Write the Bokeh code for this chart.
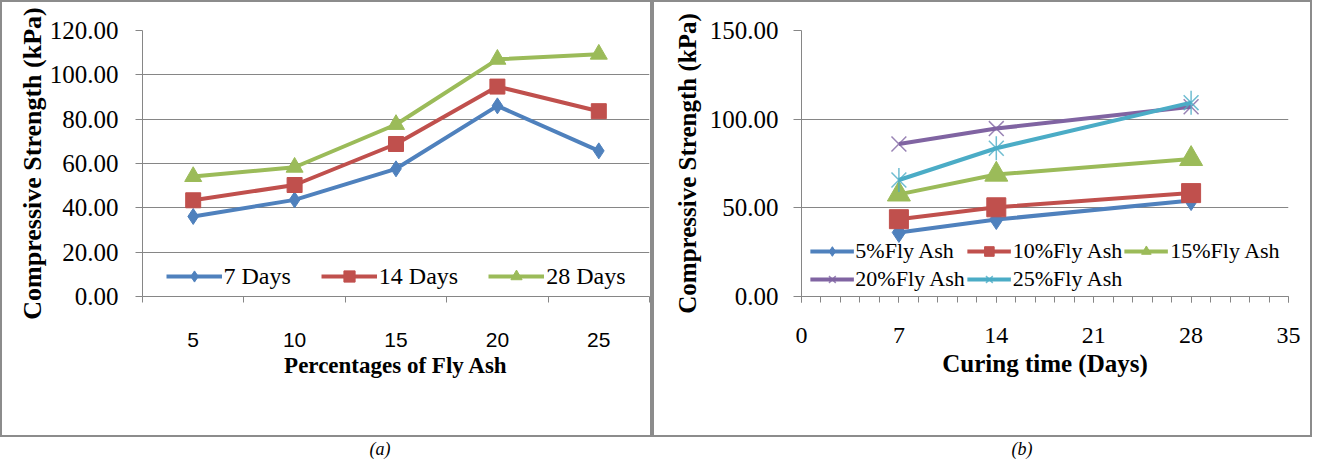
import math
from bokeh.plotting import figure
from bokeh.models import (FixedTicker, SingleIntervalTicker, NumeralTickFormatter,
                          Legend, LegendItem, Range1d, Div)
from bokeh.layouts import row, column
from bokeh.embed import file_html
from bokeh.resources import INLINE

# ---------------- data ----------------
fly_ash_pct = [5, 10, 15, 20, 25]
days_labels = ["7 Days", "14 Days", "28 Days"]
strength_7d = [36.1, 43.6, 57.6, 86.0, 65.7]
strength_14d = [43.4, 50.3, 68.8, 94.7, 83.6]
strength_28d = [54.1, 58.3, 77.6, 107.0, 109.3]
curing_days = [7, 14, 28]
fly_ash_labels = ["5%Fly Ash", "10%Fly Ash", "15%Fly Ash", "20%Fly Ash", "25%Fly Ash"]
y_ticks_a = [0, 20, 40, 60, 80, 100, 120]
y_ticks_b = [0, 50, 100, 150]

SERIF = "Liberation Serif"
SANS = "Liberation Sans"
GRID = "#868686"
BLUE, RED, GREEN, PURPLE, CYAN = "#4F81BD", "#C0504D", "#9BBB59", "#8064A2", "#4BACC6"
BOX = "2px solid #8c8c8c"


def style_y(p, ticks, tick_out, standoff, font_size, title, title_size, title_standoff):
    p.yaxis.ticker = FixedTicker(ticks=ticks)
    p.ygrid.ticker = FixedTicker(ticks=ticks)
    p.ygrid.grid_line_color = GRID
    p.ygrid.grid_line_width = 1
    p.xgrid.visible = False
    ax = p.yaxis[0]
    ax.formatter = NumeralTickFormatter(format="0.00")
    ax.axis_line_color = GRID
    ax.major_tick_line_color = GRID
    ax.minor_tick_line_color = None
    ax.major_tick_out = tick_out
    ax.major_tick_in = 0
    ax.major_label_standoff = standoff
    ax.major_label_text_font = SERIF
    ax.major_label_text_font_size = font_size
    ax.major_label_text_color = "black"
    ax.axis_label = title
    ax.axis_label_text_font = SERIF
    ax.axis_label_text_font_style = "bold"
    ax.axis_label_text_font_size = title_size
    ax.axis_label_text_color = "black"
    ax.axis_label_standoff = title_standoff


def style_x_title(ax, text, size, standoff):
    ax.axis_label = text
    ax.axis_label_text_font = SERIF
    ax.axis_label_text_font_style = "bold"
    ax.axis_label_text_font_size = size
    ax.axis_label_text_color = "black"
    ax.axis_label_standoff = standoff


# ---------------- chart (a) ----------------
pa = figure(width=652, height=437, output_backend="svg", toolbar_location=None,
            x_range=Range1d(2.5, 27.5), y_range=Range1d(0, 120),
            min_border_left=140, min_border_right=5, min_border_top=28, min_border_bottom=120,
            outline_line_color=None, background_fill_color="white", border_fill_color="white",
            styles={"border": BOX})

style_y(pa, y_ticks_a, 7, 17, "25px", "Compressive Strength (kPa)", "26px", 0)

xa = pa.xaxis[0]
xa.ticker = FixedTicker(ticks=fly_ash_pct,
                        minor_ticks=[v - 2.5 for v in fly_ash_pct] + [fly_ash_pct[-1] + 2.5])
xa.axis_line_color = GRID
xa.major_tick_line_color = None
xa.major_tick_out = 0
xa.major_tick_in = 0
xa.minor_tick_line_color = GRID
xa.minor_tick_out = 6
xa.minor_tick_in = 0
xa.major_label_standoff = 30
xa.major_label_text_font = SANS
xa.major_label_text_font_size = "21px"
xa.major_label_text_color = "black"
style_x_title(xa, "Percentages of Fly Ash", "23px", 3)

items_a = []
for vals, color, marker, size, label in [
    (strength_7d, BLUE, "diamond", 16, days_labels[0]),
    (strength_14d, RED, "square", 15, days_labels[1]),
    (strength_28d, GREEN, "triangle", 17, days_labels[2]),
]:
    rl = pa.line(fly_ash_pct, vals, line_color=color, line_width=4)
    rm = pa.scatter(fly_ash_pct, vals, marker=marker, size=size,
                    fill_color=color, line_color=color)
    items_a.append(LegendItem(label=label, renderers=[rl, rm]))

leg_a = Legend(items=items_a, orientation="horizontal", location="bottom_center",
               margin=6, padding=0, spacing=30, label_standoff=2,
               glyph_width=56, glyph_height=28,
               border_line_color=None, background_fill_alpha=0,
               label_text_font=SERIF, label_text_font_size="24px",
               label_text_color="black")
pa.add_layout(leg_a)

# ---------------- chart (b) ----------------
pb = figure(width=660, height=437, output_backend="svg", toolbar_location=None,
            x_range=Range1d(0, 35), y_range=Range1d(0, 150),
            min_border_left=147, min_border_right=26, min_border_top=23, min_border_bottom=143,
            outline_line_color=None, background_fill_color="white", border_fill_color="white",
            styles={"border": BOX})

style_y(pb, y_ticks_b, 8, 15, "25px", "Compressive Strength (kPa)", "25px", 6)

xb = pb.xaxis[0]
xb.ticker = SingleIntervalTicker(interval=7, num_minor_ticks=5)
xb.axis_line_color = GRID
xb.major_tick_line_color = GRID
xb.major_tick_out = 6
xb.major_tick_in = 0
xb.minor_tick_line_color = GRID
xb.minor_tick_out = 6
xb.minor_tick_in = 0
xb.major_label_standoff = 25
xb.major_label_text_font = SERIF
xb.major_label_text_font_size = "24px"
xb.major_label_text_color = "black"
style_x_title(xb, "Curing time (Days)", "25px", 4)

series_b = [[strength_7d[i], strength_14d[i], strength_28d[i]] for i in range(len(fly_ash_pct))]
styles_b = [
    (BLUE, [("diamond", 20, 0.0)]),
    (RED, [("square", 19, 0.0)]),
    (GREEN, [("triangle", 23, 0.0)]),
    (PURPLE, [("x", 21, 0.0)]),
    (CYAN, [("x", 21, 0.0), ("dash", 24, math.pi / 2)]),
]
items_b = []
for vals, (color, marks), label in zip(series_b, styles_b, fly_ash_labels):
    rl = pb.line(curing_days, vals, line_color=color, line_width=4)
    rends = [rl]
    for marker, size, ang in marks:
        if marker in ("x", "dash"):
            rm = pb.scatter(curing_days, vals, marker=marker, size=size, angle=ang,
                            line_color=color, line_width=1.5, line_alpha=0.8)
        else:
            rm = pb.scatter(curing_days, vals, marker=marker, size=size,
                            fill_color=color, line_color=color)
        rends.append(rm)
    items_b.append(LegendItem(label=label, renderers=rends))

leg_b = Legend(items=items_b, orientation="horizontal", ncols=3, location="bottom_center",
               margin=4, padding=0, spacing=2, label_standoff=2,
               glyph_width=44, glyph_height=24,
               border_line_color=None, background_fill_alpha=0,
               label_text_font=SERIF, label_text_font_size="22px",
               label_text_color="black")
pb.add_layout(leg_b)

# ---------------- captions ----------------
cap_css = {"text-align": "center", "font-family": "'Liberation Serif', serif",
           "font-style": "italic", "font-size": "18px", "line-height": "15px",
           "color": "black"}
cap_a = Div(text="(a)", width=750, height=15, styles=cap_css)
cap_b = Div(text="(b)", width=514, height=15, styles=cap_css)

layout = column(row(pa, pb), row(cap_a, cap_b))

with open("out.html", "w") as f:
    f.write(file_html(layout, INLINE))
